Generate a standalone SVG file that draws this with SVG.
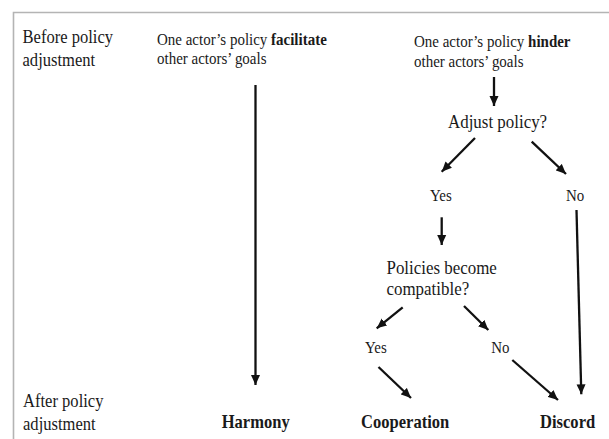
<svg xmlns="http://www.w3.org/2000/svg" width="609" height="439" viewBox="0 0 609 439">
  <defs>
    <style>
      text { fill: #1a1a1a; font-family: "Liberation Serif", "Times New Roman", serif; }
      .lbl { font-size: 18.4px; }
      .sm { font-size: 16.2px; }
      .md { font-size: 18.8px; }
      .yn { font-size: 17.6px; }
      .out { font-size: 18.4px; font-weight: bold; }
      .b { font-weight: bold; }
      .conn line { stroke: #111; stroke-width: 2.3; marker-end: url(#ah); }
      .frame { fill: none; stroke: #b4b4b4; stroke-width: 1.6; }
    </style>
    <marker id="ah" markerUnits="userSpaceOnUse" markerWidth="11" markerHeight="10" refX="10" refY="5" orient="auto">
      <path d="M0,0.5 L10,5 L0,9.5 z" fill="#111"/>
    </marker>
  </defs>
  <rect width="609" height="439" fill="#fff"/>
  <path class="frame" d="M13.5,439 V12.5 H609"/>

  <g id="phase-before">
    <text class="lbl" transform="translate(22.5 43.3) scale(0.9 1)">Before policy</text>
    <text class="lbl" transform="translate(22.5 65.7) scale(0.9 1)">adjustment</text>
  </g>
  <g id="phase-after">
    <text class="lbl" transform="translate(23 407.3) scale(0.9 1)">After policy</text>
    <text class="lbl" transform="translate(23 430) scale(0.9 1)">adjustment</text>
  </g>

  <g id="facilitate">
    <text class="sm" transform="translate(157 45) scale(0.925 1)">One actor’s policy <tspan class="b">facilitate</tspan></text>
    <text class="sm" transform="translate(157 63.5) scale(0.925 1)">other actors’ goals</text>
  </g>
  <g id="hinder">
    <text class="sm" transform="translate(414 46.7) scale(0.925 1)">One actor’s policy <tspan class="b">hinder</tspan></text>
    <text class="sm" transform="translate(414 66.7) scale(0.925 1)">other actors’ goals</text>
  </g>
  <g id="adjust">
    <text class="md" transform="translate(448 127.7) scale(0.9 1)">Adjust policy?</text>
  </g>
  <g id="adjust-yes">
    <text class="yn" transform="translate(430 200.7) scale(0.85 1)">Yes</text>
  </g>
  <g id="adjust-no">
    <text class="yn" transform="translate(566 201) scale(0.85 1)">No</text>
  </g>
  <g id="compatible">
    <text class="md" transform="translate(386.5 274.3) scale(0.9 1)">Policies become</text>
    <text class="md" transform="translate(386.5 295) scale(0.9 1)">compatible?</text>
  </g>
  <g id="compatible-yes">
    <text class="yn" transform="translate(365 353) scale(0.85 1)">Yes</text>
  </g>
  <g id="compatible-no">
    <text class="yn" transform="translate(491.3 352.7) scale(0.85 1)">No</text>
  </g>
  <g id="harmony">
    <text class="out" transform="translate(221.7 428.3) scale(0.9 1)">Harmony</text>
  </g>
  <g id="cooperation">
    <text class="out" transform="translate(361 428) scale(0.9 1)">Cooperation</text>
  </g>
  <g id="discord">
    <text class="out" transform="translate(540 427.7) scale(0.9 1)">Discord</text>
  </g>

  <g id="connectors" class="conn">
    <line x1="255.5" y1="85" x2="255.5" y2="385"/>
    <line x1="494" y1="77" x2="494" y2="106"/>
    <line x1="475" y1="138" x2="441.7" y2="171.7"/>
    <line x1="531.7" y1="141.7" x2="566" y2="174"/>
    <line x1="441.7" y1="217.3" x2="441.7" y2="245"/>
    <line x1="576.5" y1="210" x2="581.3" y2="394.3"/>
    <line x1="402.7" y1="307.3" x2="376.7" y2="328.3"/>
    <line x1="464" y1="306" x2="488.3" y2="330"/>
    <line x1="378.5" y1="367" x2="411" y2="398"/>
    <line x1="512.3" y1="360" x2="558" y2="400"/>
  </g>
</svg>
